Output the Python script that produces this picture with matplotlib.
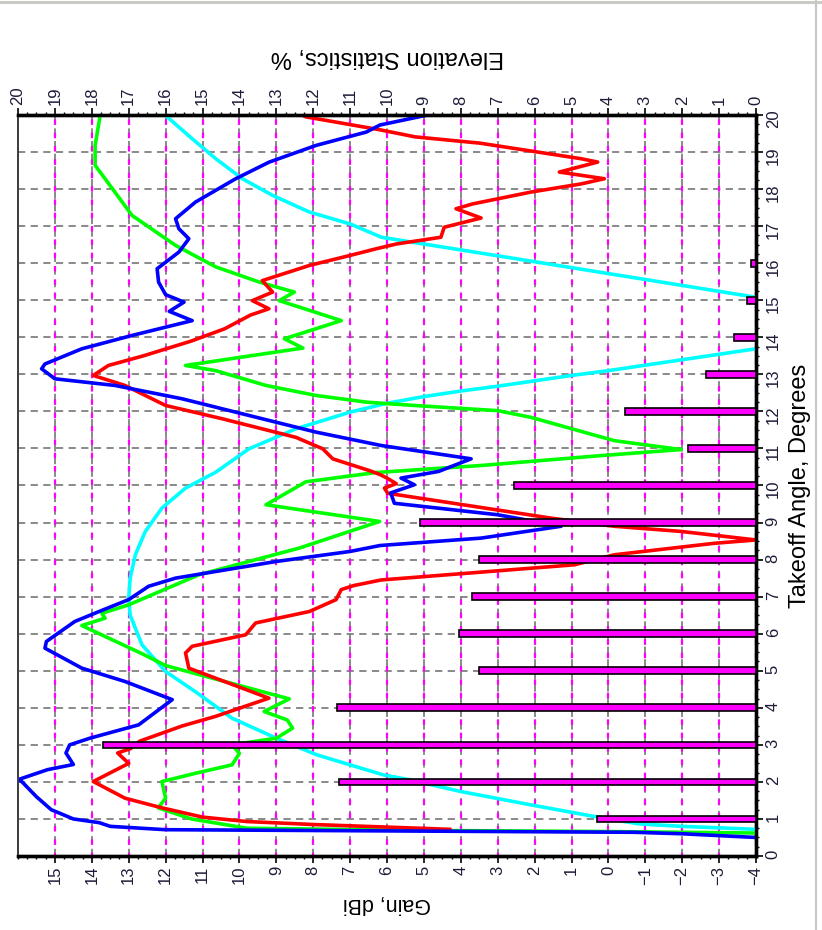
import numpy as np
import matplotlib
matplotlib.use("Agg")
import matplotlib.pyplot as plt
from matplotlib.ticker import MultipleLocator
from matplotlib.lines import Line2D

plt.rcParams['font.family'] = ['Liberation Sans', 'DejaVu Sans']

# takeoff angle (deg) / gain (dBi)
red_ang = [0.72, 0.78, 0.85, 0.93, 1.05, 1.3, 1.56, 2.01, 2.5, 2.78, 2.9, 3.1, 3.51, 3.77,
           4.26, 5.07, 5.48, 5.66, 5.97, 6.29, 6.6, 6.92, 7.19, 7.3, 7.45, 7.86, 8.13, 8.44,
           8.53, 8.76, 8.9, 9.12, 9.79, 9.93, 10.05, 10.2, 10.3, 10.4, 10.72, 10.99, 11.3,
           11.8, 12.16, 12.7, 12.97, 13.24, 13.5, 13.9, 14.23, 14.6, 14.77, 14.99, 15.22,
           15.53, 15.94, 16.21, 16.39, 16.52, 16.7, 16.97, 17.22, 17.47, 17.6, 17.92, 18.14,
           18.28, 18.46, 18.73, 18.82, 19.24, 19.41, 19.6, 19.95, 20.0]
red_gain = [4.3, 6.0, 8.0, 9.8, 11.0, 12.1, 13.1, 13.96, 13.0, 13.3, 12.95, 12.7, 11.55, 10.64,
            9.2, 11.37, 11.46, 11.28, 9.83, 9.56, 8.1, 7.38, 7.24, 6.9, 6.16, 0.92, -0.16, -2.87,
            -4.0, -1.97, -0.16, 1.56, 5.98, 6.07, 5.75, 6.0, 6.2, 6.47, 7.47, 7.74, 8.47,
            10.46, 12.0, 13.1, 13.96, 13.55, 12.6, 11.3, 10.4, 9.7, 9.2, 9.65, 9.1,
            9.38, 8.1, 7.0, 6.29, 5.74, 4.54, 4.45, 3.45, 4.13, 3.68, 2.1, 0.74,
            0.11, 1.33, 0.29, 0.74, 3.48, 5.24, 6.19, 8.2, 8.3]

blue_ang = [0.5, 0.6, 0.64, 0.68, 0.71, 0.8, 0.9, 1.0, 1.25, 1.6, 2.01, 2.06, 2.33, 2.47, 2.78,
            3.0, 3.18, 3.54, 4.22, 4.71, 5.07, 5.61, 5.79, 6.33, 6.6, 6.92, 7.28, 7.5, 7.95,
            8.22, 8.38, 8.58, 8.9, 9.21, 9.52, 9.8, 10.02, 10.2, 10.38, 10.72, 11.08, 11.44,
            11.89, 12.34, 12.7, 12.88, 13.15, 13.28, 13.69, 14.05, 14.45, 14.7, 14.95, 15.15,
            15.49, 15.85, 16.3, 16.66, 16.93, 17.2, 17.65, 18.28, 18.73, 19.18, 19.54, 19.73, 20.0]
blue_gain = [-4.0, -2.0, -0.7, 6.5, 12.0, 13.5, 13.8, 14.5, 15.1, 15.5, 15.9, 16.0, 15.2, 14.5, 14.7,
             14.6, 14.05, 12.73, 11.82, 13.1, 14.27, 15.27, 15.23, 14.46, 13.8, 13.0, 12.46, 11.73, 9.0,
             7.0, 6.19, 3.45, 1.28, 3.0, 5.8, 5.9, 5.26, 5.62, 4.6, 3.72, 6.16, 7.92,
             9.74, 11.55, 13.37, 15.0, 15.36, 15.27, 14.27, 12.91, 11.28, 11.9, 11.5, 12.0,
             12.19, 12.23, 11.64, 11.37, 11.64, 11.73, 11.19, 10.1, 9.19, 7.92, 6.56, 6.19, 4.9]

green_ang = [0.55, 0.62, 0.66, 0.69, 0.75, 1.0, 1.3, 1.56, 2.01, 2.23, 2.46, 2.77, 3.0, 3.18, 3.45,
             3.67, 3.9, 4.24, 5.14, 5.46, 6.22, 6.42, 6.55, 6.78, 7.59, 7.95, 8.31, 9.03, 9.48,
             10.1, 10.35, 10.54, 10.8, 10.97, 11.21, 11.84, 12.02, 12.16, 12.25, 12.43, 12.7,
             13.1, 13.24, 13.71, 13.96, 14.45, 14.99, 15.22, 15.49, 15.9, 16.48, 17.29, 18.28,
             18.64, 19.18, 19.95, 20.0]
green_gain = [-4.0, -4.0, 0.0, 5.0, 9.8, 11.3, 12.2, 12.0, 12.1, 11.2, 10.2, 10.0, 10.2, 9.0, 8.56,
              8.7, 9.33, 8.65, 12.0, 12.64, 14.27, 13.64, 13.73, 13.0, 11.1, 9.74, 8.38, 6.2, 9.28,
              8.2, 6.3, 3.45, 0.29, -1.97, -0.16, 2.1, 3.0, 5.26, 6.56, 7.92, 9.28,
              10.64, 11.46, 8.28, 8.78, 7.24, 8.92, 8.51, 9.46, 10.64, 11.73, 12.91, 13.64,
              13.91, 13.91, 13.78, 13.78]

cyan_ang = [0.72, 0.8, 0.87, 1.07, 1.38, 1.74, 2.06, 2.19, 2.73, 3.18, 3.72, 4.44, 4.98, 5.7,
            6.5, 6.96, 7.5, 8.13, 8.76, 9.39, 9.93, 10.36, 10.99, 11.53, 11.98, 12.22, 12.4,
            12.55, 12.68, 12.97, 13.1, 13.69, 14.4, 15.08, 15.72, 16.2, 16.7, 17.06, 17.38,
            17.83, 18.28, 18.82, 19.36, 19.95, 20.0]
cyan_gain = [-4.0, -2.0, -0.8, 0.4, 2.1, 4.0, 5.4, 6.1, 7.9, 9.0, 10.2, 11.2, 12.0, 12.64,
             12.96, 13.0, 12.96, 12.82, 12.55, 12.1, 11.46, 10.64, 9.74, 8.47, 7.0, 6.0, 5.0,
             4.0, 3.0, 1.0, 0.0, -4.0, np.nan, -4.0, 0.0, 3.0, 6.15, 7.0, 8.1,
             9.1, 9.92, 10.64, 11.28, 11.96, 12.0]

# elevation statistics, % per takeoff angle
elev_ang = [1, 2, 3, 4, 5, 6, 7, 8, 9, 10, 11, 12, 13, 14, 15, 16]
elev_pct = [4.3, 11.3, 17.7, 11.35, 7.5, 8.05, 7.7, 7.5, 9.1, 6.55, 1.85, 3.55, 1.35, 0.6, 0.25, 0.13]

gain_ticks = list(range(-4, 16))
elev_ticks = list(range(0, 21))
ang_ticks = list(range(0, 21))

lbl_col = '#1c1c38'

fig = plt.figure(figsize=(8.22, 9.30), dpi=100)
fig.patch.set_facecolor('white')
ax = fig.add_axes([18/822, 74/930, 738/822, 741/930])
ax2 = ax.twiny()

ax.set_xlim(16, -4)
ax.set_ylim(0, 20)
ax2.set_xlim(20, 0)

# grid
for e in elev_ticks:
    ax.plot([e, e], [0, 1], transform=ax2.get_xaxis_transform(), color='#808080',
            lw=1.3, ls=(0, (4, 3)), zorder=1)
for g in gain_ticks:
    ax.axvline(g, color='#ff00ff', lw=1.6, ls=(1, (2.5, 3.5)), zorder=1.2)
for a in ang_ticks:
    ax.axhline(a, color='#808080', lw=1.3, ls=(0, (4, 3)), zorder=1)

ax.plot(cyan_gain, cyan_ang, color='#00ffff', lw=2.6, zorder=3)
ax.plot(green_gain, green_ang, color='#00ff00', lw=2.6, zorder=3)
ax.plot(red_gain, red_ang, color='#ff0000', lw=2.6, zorder=3)
ax.plot(blue_gain, blue_ang, color='#0000ff', lw=2.6, zorder=3)

ax2.barh(elev_ang, elev_pct, height=0.18, color='#ff00ff', edgecolor='black', lw=1.2, zorder=4)

# ticks
ax.yaxis.tick_right()
ax.yaxis.set_label_position('right')
ax.set_xticks(gain_ticks)
ax.set_yticks(ang_ticks)
ax2.set_xticks(elev_ticks)
ax.xaxis.set_minor_locator(MultipleLocator(0.25))
ax.yaxis.set_minor_locator(MultipleLocator(0.25))
ax2.xaxis.set_minor_locator(MultipleLocator(0.25))
for a_ in (ax, ax2):
    a_.tick_params(which='major', direction='out', length=5, width=1.2, color='black',
                   labelsize=12, labelcolor=lbl_col, labelrotation=90, pad=2)
    a_.tick_params(which='minor', direction='out', length=2.5, width=1, color='black')
ax.tick_params(axis='y', which='both', left=False, right=True)

ax.set_xlabel('Gain, dBi', fontsize=15.5, rotation=180, labelpad=6)
ax.set_ylabel('Takeoff Angle, Degrees', fontsize=17, rotation=90, labelpad=6)
ax2.set_xlabel('Elevation Statistics, %', fontsize=17, rotation=180, labelpad=17)

for a_ in (ax, ax2):
    for s in ('top', 'bottom', 'right'):
        a_.spines[s].set_linewidth(2.4)
        a_.spines[s].set_color('black')
    a_.spines['left'].set_linewidth(1.4)
    a_.spines['left'].set_color('#404040')

# window frame lines
fig.add_artist(Line2D([0, 1], [0.998, 0.998], transform=fig.transFigure, color='#c8c8c0', lw=2))
fig.add_artist(Line2D([0.993, 0.993], [0, 1], transform=fig.transFigure, color='#c8c8c0', lw=1.5))

fig.savefig('out.png', dpi=100)
